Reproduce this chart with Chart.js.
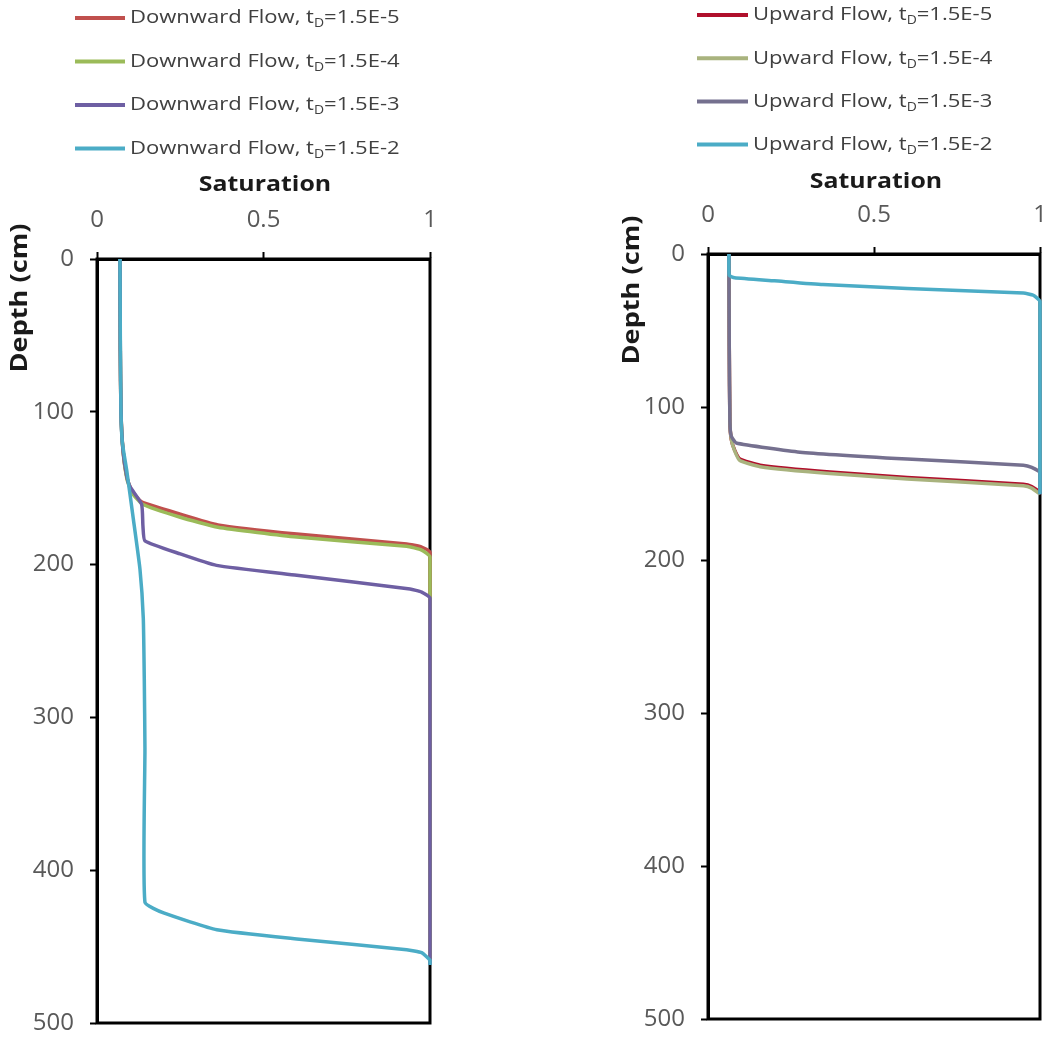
<!DOCTYPE html>
<html>
<head>
<meta charset="utf-8">
<script src="https://cdn.jsdelivr.net/npm/chart.js@4.4.1/dist/chart.umd.min.js"></script>
<style>
	body { margin: 0; background: #fff; }
	#wrap { position: relative; width: 1050px; height: 1039px; }
	canvas { position: absolute; top: 0; }
</style>
</head>
<body>
<div id="wrap">
	<canvas id="downChart" width="525" height="1039" style="left:0"></canvas>
	<canvas id="upChart" width="525" height="1039" style="left:525px"></canvas>
</div>
<script>
const timeLabels = ['1.5E-5', '1.5E-4', '1.5E-3', '1.5E-2'];
const satTicks = [0, 0.5, 1];
const depthTicks = [0, 100, 200, 300, 400, 500];

// downward flow, saturation vs depth (cm)
const downSat1 = [0.069, 0.070, 0.072, 0.078, 0.090, 0.105, 0.134, 0.250, 0.363, 0.600, 0.930, 0.975, 1.000, 1.000];
const downDepth1 = [0, 60, 100, 125, 143, 152, 159, 167, 174, 180, 186.5, 188.5, 192, 462];
const downSat2 = [0.069, 0.070, 0.072, 0.078, 0.090, 0.105, 0.137, 0.250, 0.363, 0.600, 0.930, 0.975, 1.000, 1.000];
const downDepth2 = [0, 60, 100, 125, 144, 153, 160.5, 169, 175.5, 182, 188, 190.5, 195, 462];
const downSat3 = [0.069, 0.070, 0.072, 0.078, 0.090, 0.099, 0.134, 0.138, 0.144, 0.250, 0.359, 0.600, 0.940, 0.975, 1.000, 1.000];
const downDepth3 = [0, 60, 100, 125, 143, 149, 160.5, 175, 184.5, 193, 200.5, 207, 216, 218, 222, 462];
const downSat4 = [0.069, 0.070, 0.072, 0.076, 0.089, 0.109, 0.129, 0.139, 0.142, 0.144, 0.144, 0.200, 0.360, 0.600, 0.930, 0.975, 1.000, 1.000];
const downDepth4 = [0, 50, 100, 120, 138, 170, 203, 235, 275, 320, 421, 428, 439, 445, 452, 454, 459, 462];

// upward flow, saturation vs depth (cm)
const upSat1 = [0.063, 0.064, 0.066, 0.070, 0.080, 0.096, 0.157, 0.367, 0.600, 0.950, 0.975, 1.000, 1.000];
const upDepth1 = [0, 60, 110, 121, 128, 134, 138, 142.5, 146, 150.5, 152, 156, 157];
const upSat2 = [0.063, 0.064, 0.066, 0.070, 0.080, 0.096, 0.157, 0.367, 0.600, 0.950, 0.975, 1.000, 1.000];
const upDepth2 = [0, 60, 110, 121, 128.5, 135, 139, 143.5, 147, 151.5, 153, 157, 157];
const upSat3 = [0.063, 0.064, 0.066, 0.070, 0.085, 0.277, 0.600, 0.950, 0.975, 1.000, 1.000];
const upDepth3 = [0, 60, 110, 119, 123.5, 129.5, 134, 138, 139.5, 143, 157];
const upSat4 = [0.063, 0.064, 0.080, 0.200, 0.346, 0.600, 0.950, 0.980, 1.000, 1.000];
const upDepth4 = [0, 14, 15.5, 17.5, 20, 22.5, 25.5, 27, 31, 157];

const toPoints = (sat, depth) => sat.map((s, i) => ({ x: s, y: depth[i] }));

// text drawn a little wider than the font's own width
const wideText = (ctx, str, x, y, sx) => {
	ctx.save();
	ctx.translate(x, y);
	ctx.scale(sx, 1);
	ctx.fillText(str, 0, 0);
	ctx.restore();
	return ctx.measureText(str).width * sx;
};

// legend, axis titles and the closing box of each panel
const panelText = {
	id: 'panelText',
	beforeDatasetsDraw(chart) {
		const a = chart.chartArea;
		const ctx = chart.ctx;
		ctx.save();
		ctx.strokeStyle = '#000';
		ctx.lineWidth = 3;
		ctx.strokeRect(a.left, a.top, a.right - a.left, a.bottom - a.top);
		ctx.restore();
	},
	afterDraw(chart, args, opts) {
		const ctx = chart.ctx;
		ctx.save();
		chart.data.datasets.forEach((ds, i) => {
			const y = opts.legendY + i * opts.legendDy;
			ctx.strokeStyle = ds.borderColor;
			ctx.lineWidth = 4;
			ctx.beginPath();
			ctx.moveTo(opts.legendX, y);
			ctx.lineTo(opts.legendX + opts.legendLen, y);
			ctx.stroke();

			ctx.fillStyle = '#404040';
			ctx.textBaseline = 'middle';
			ctx.textAlign = 'left';
			let x = opts.legendX + opts.legendLen + 5;
			ctx.font = '19px "Open Sans"';
			x += wideText(ctx, opts.prefix + ' Flow, t', x, y, 1.16);
			ctx.font = '12px "Open Sans"';
			x += wideText(ctx, 'D', x, y + 6, 1.16);
			ctx.font = '19px "Open Sans"';
			wideText(ctx, '=' + timeLabels[i], x, y, 1.16);
		});

		ctx.fillStyle = '#1a1a1a';
		ctx.textAlign = 'center';
		ctx.textBaseline = 'middle';
		ctx.font = 'bold 22px "Open Sans"';
		wideText(ctx, 'Saturation', opts.titleX, opts.titleY, 1.13);

		ctx.translate(opts.depthX, opts.depthY);
		ctx.rotate(-Math.PI / 2);
		ctx.font = 'bold 23px "Open Sans"';
		wideText(ctx, 'Depth (cm)', 0, 0, 1.18);
		ctx.restore();
	}
};

const makeChart = (id, series, colors, text, pad, yWidth, xHeight) => {
	return new Chart(document.getElementById(id), {
		type: 'scatter',
		data: {
			datasets: series.map((s, i) => ({
				label: text.prefix + ' Flow, tD=' + timeLabels[i],
				data: toPoints(s[0], s[1]),
				showLine: true,
				borderColor: colors[i],
				backgroundColor: colors[i],
				borderWidth: 3.5,
				pointRadius: 0,
				tension: 0.15,
				clip: false,
				order: series.length - 1 - i
			}))
		},
		options: {
			responsive: false,
			animation: false,
			layout: { padding: pad },
			plugins: {
				legend: { display: false },
				tooltip: { enabled: false },
				panelText: text
			},
			scales: {
				x: {
					type: 'linear',
					position: 'top',
					min: 0,
					max: 1,
					afterBuildTicks: sc => { sc.ticks = satTicks.map(v => ({ value: v })); },
					afterFit: sc => {
						sc.height = xHeight;
						sc.paddingLeft = 0;
						sc.paddingRight = 0;
					},
					grid: { drawOnChartArea: false, tickLength: 7, tickWidth: 2, tickColor: '#000' },
					border: { color: '#000', width: 3 },
					ticks: {
						color: '#595959',
						font: { family: 'Open Sans', size: 24 },
						padding: 17,
						maxRotation: 0,
						callback: v => String(v)
					}
				},
				y: {
					type: 'linear',
					reverse: true,
					min: 0,
					max: 500,
					afterBuildTicks: sc => { sc.ticks = depthTicks.map(v => ({ value: v })); },
					afterFit: sc => {
						sc.width = yWidth;
						sc.paddingTop = 0;
						sc.paddingBottom = 0;
					},
					grid: { drawOnChartArea: false, tickLength: 7, tickWidth: 2, tickColor: '#000' },
					border: { color: '#000', width: 3 },
					ticks: {
						color: '#595959',
						font: { family: 'Open Sans', size: 24 },
						padding: 16,
						callback: v => String(v)
					}
				}
			}
		},
		plugins: [panelText]
	});
};

makeChart('downChart',
	[[downSat1, downDepth1], [downSat2, downDepth2], [downSat3, downDepth3], [downSat4, downDepth4]],
	['#C0504D', '#9BBB59', '#6E5FA3', '#4BACC6'],
	{ prefix: 'Downward', legendX: 75, legendY: 18, legendDy: 43.5, legendLen: 50,
	  titleX: 265, titleY: 185, depthX: 20, depthY: 298 },
	{ top: 150, left: 0, right: 95, bottom: 16 }, 97, 109);

makeChart('upChart',
	[[upSat1, upDepth1], [upSat2, upDepth2], [upSat3, upDepth3], [upSat4, upDepth4]],
	['#B0102C', '#A9B37E', '#75708F', '#4BACC6'],
	{ prefix: 'Upward', legendX: 697 - 525, legendY: 15, legendDy: 43.2, legendLen: 51,
	  titleX: 876 - 525, titleY: 182, depthX: 632 - 525, depthY: 290 },
	{ top: 150, left: 0, right: 10, bottom: 20 }, 183, 104);
</script>
</body>
</html>
